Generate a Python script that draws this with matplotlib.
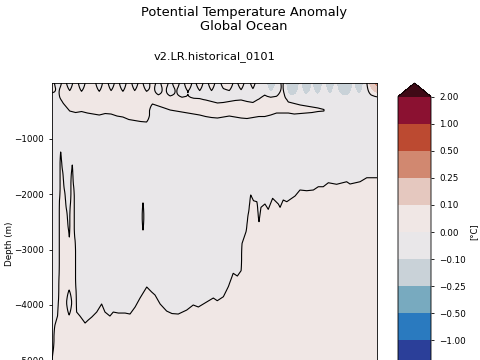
import numpy as np
import matplotlib
matplotlib.use("Agg")
import matplotlib.pyplot as plt
from matplotlib.colors import ListedColormap, BoundaryNorm

# colour levels of the anomaly (degC)
levels = [-2.0, -1.0, -0.5, -0.25, -0.1, 0.0, 0.1, 0.25, 0.5, 1.0, 2.0]
colors = ["#2b3f99", "#2a7abf", "#78aabf", "#c9d2d8", "#e9e7e9",
          "#f0e7e5", "#e5c8bf", "#d18870", "#bc4a31", "#8b1131"]
under_color = "#1b2057"
over_color = "#3f0a16"

# deep part: depth (m) of the zero line between the mid-depth cold layer and the warm bottom water
deep_years = [1850.0, 1850.5, 1851.5, 1852.8, 1853.3, 1853.6, 1853.8, 1854.4, 1855.3, 1856.3,
              1857.4, 1858.4, 1858.8, 1859.3, 1859.9, 1860.3, 1860.9, 1861.7, 1862.2, 1862.5,
              1864.2, 1866.8, 1868.4, 1870.2, 1872.7, 1875.2, 1876.9, 1879.4, 1881.1, 1883.7,
              1887.1, 1889.6, 1892.2, 1894.7, 1898.1, 1900.6, 1902.3, 1904.9, 1908.2, 1910.9,
              1914.1, 1918.4, 1921.7, 1924.3, 1928.5, 1931.9, 1933.9, 1937.0, 1939.5, 1942.0,
              1944.1, 1946.0, 1946.5, 1948.5, 1949.7, 1950.9, 1952.3, 1954.0, 1955.1, 1956.1,
              1958.1, 1959.8, 1962.0, 1964.9, 1965.8, 1967.4, 1969.2, 1973.4, 1975.9, 1979.3,
              1982.7, 1985.2, 1987.7, 1990.3, 1994.5, 1999.6, 2001.3, 2006.4, 2009.8, 2015.0]
deep_zero = [-4992, -4847, -4361, -4199, -3910, -3460, -2108, -1243, -1568, -1928,
             -2289, -2649, -2775, -2198, -1604, -1478, -1838, -2829, -3730, -4127,
             -4199, -4325, -4271, -4217, -4127, -3982, -4127, -4199, -4127, -4145,
             -4145, -4163, -4036, -3874, -3676, -3766, -3820, -3982, -4109, -4154,
             -4163, -4091, -4000, -4036, -3946, -3874, -3923, -3851, -3671, -3429,
             -3478, -3382, -2889, -2680, -2348, -2018, -2121, -2139, -2499, -2240,
             -2180, -2276, -2078, -2180, -2240, -2108, -2139, -2036, -1928, -1941,
             -1928, -1869, -1869, -1797, -1825, -1779, -1820, -1779, -1707, -1707]

# upper ocean: warm layer top / bottom (m) and near-surface anomaly (degC), every 3 years
up_years = np.arange(1850, 2016, 3)
warm_top = [100] * 17 + [-162, -180, -198, -216, -225, -243, -261, -270, -288, -306,
                         -333, -360, -351, -333, -315, -306, -333, -351, -288, -180,
                         -189, -198, -90, -342, -369, -396, -414, -432, -450, -477] + [-420] * 9
warm_bot = [-126, -216, -378, -505, -532, -514, -541, -559, -577, -550,
            -559, -595, -613, -658, -676, -694, -703,
            -378, -414, -450, -487, -505, -523, -541, -559, -577, -604,
            -622, -631, -613, -595, -613, -631, -640, -622, -604, -604,
            -577, -541, -541, -541, -559, -550, -541, -532, -514, -505] + [-380] * 9
surf = [0.04, -0.06, 0.04, -0.05, 0.05, -0.06, 0.04, 0.04, -0.06, 0.05,
        -0.05, 0.04, -0.06, 0.05, -0.05, 0.04, -0.06,
        0.05, -0.04, 0.06, -0.03, 0.05, -0.04, 0.06, -0.03, 0.05, -0.04,
        0.05, -0.04, 0.03, 0.05, -0.03, 0.04, -0.04, 0.03, -0.05,
        -0.05, -0.2, -0.08, 0.03, -0.2, -0.22, -0.08, -0.21, -0.1, -0.2, -0.07,
        -0.19, -0.08, -0.21, -0.22, -0.09, -0.19, -0.06, 0.15, 0.3]
surf_depth = 300.0   # depth over which the surface anomaly fades out

# two small isolated patches
blob_years = [1858.7, 1896.2]
blob_top = [-3730, -2160]
blob_bot = [-4180, -2650]
blob_w = [2.5, 0.8]
blob_sign = [-1, 1]

cmap = ListedColormap(colors)
cmap.set_under(under_color)
cmap.set_over(over_color)
norm = BoundaryNorm(levels, cmap.N)

fig = plt.figure(figsize=(4.8, 3.6), dpi=100)
ax = fig.add_axes([52 / 480, 1 - 404.9 / 360, 325 / 480, 321.9 / 360])
cax = fig.add_axes([398 / 480, 1 - 381 / 360, 33 / 480, 298 / 360])

# deep field
zd = np.arange(0, -5801, -20.0)
fd = np.clip((np.array(deep_zero)[None, :] - zd[:, None]) * 0.0003, -0.06, 0.06)
cs = ax.contourf(deep_years, zd, fd, levels=levels, cmap=cmap, norm=norm, extend="both")
ax.contour(deep_years, zd, fd, levels=[0], colors="k", linewidths=0.8)

# upper field
zu = np.arange(0, -1001, -20.0)
top = np.array(warm_top, dtype=float)[None, :]
bot = np.array(warm_bot, dtype=float)[None, :]
fu = np.clip(np.minimum(top - zu[:, None], zu[:, None] - bot) * 0.0005, -0.06, 0.06)
wt = np.clip(1 + zu[:, None] / surf_depth, 0, 1)
fu = wt * np.array(surf)[None, :] + (1 - wt) * fu
ax.contourf(up_years, zu, fu, levels=levels, cmap=cmap, norm=norm, extend="both")
ax.contour(up_years, zu, fu, levels=[0], colors="k", linewidths=0.8)

# isolated patches
for c, t, b, w, s in zip(blob_years, blob_top, blob_bot, blob_w, blob_sign):
    zb = np.arange(t + 100, b - 101, -10.0)
    mid = s * np.clip(np.minimum(t - zb, zb - b) * 0.0003, -0.06, 0.06)
    side = -s * 0.06 * np.ones_like(zb)
    fb = np.stack([side, mid, side], axis=1)
    ax.contourf([c - w, c, c + w], zb, fb, levels=levels, cmap=cmap, norm=norm, extend="both")
    ax.contour([c - w, c, c + w], zb, fb, levels=[0], colors="k", linewidths=0.8)

ax.set_xlim(1850, 2015)
ax.set_ylim(-5800, 0)
ax.set_yticks([-1000, -2000, -3000, -4000, -5000])
ax.set_ylabel("Depth (m)", fontsize=6.3, labelpad=-0.5)
ax.tick_params(labelsize=6.3, length=2.5, width=0.6)
ax.tick_params(axis="x", labelbottom=False)
for sp in ax.spines.values():
    sp.set_linewidth(0.6)

cb = fig.colorbar(cs, cax=cax, ticks=levels, extend="both")
cb.ax.set_yticklabels([f"{v:.2f}".replace("-", "\u2212") for v in levels])
cb.ax.tick_params(labelsize=6.3, length=2.5, width=0.6)
cb.outline.set_linewidth(0.6)
cb.set_label("[°C]", fontsize=6.0, labelpad=2)

fig.text(0.508, 1 - 19.5 / 360, "Potential Temperature Anomaly\nGlobal Ocean",
         ha="center", va="center", fontsize=9.4, linespacing=1.15)
fig.text(214.5 / 480, 1 - 57 / 360, "v2.LR.historical_0101", ha="center", va="center", fontsize=8.2)

fig.savefig("out.png", dpi=100)
